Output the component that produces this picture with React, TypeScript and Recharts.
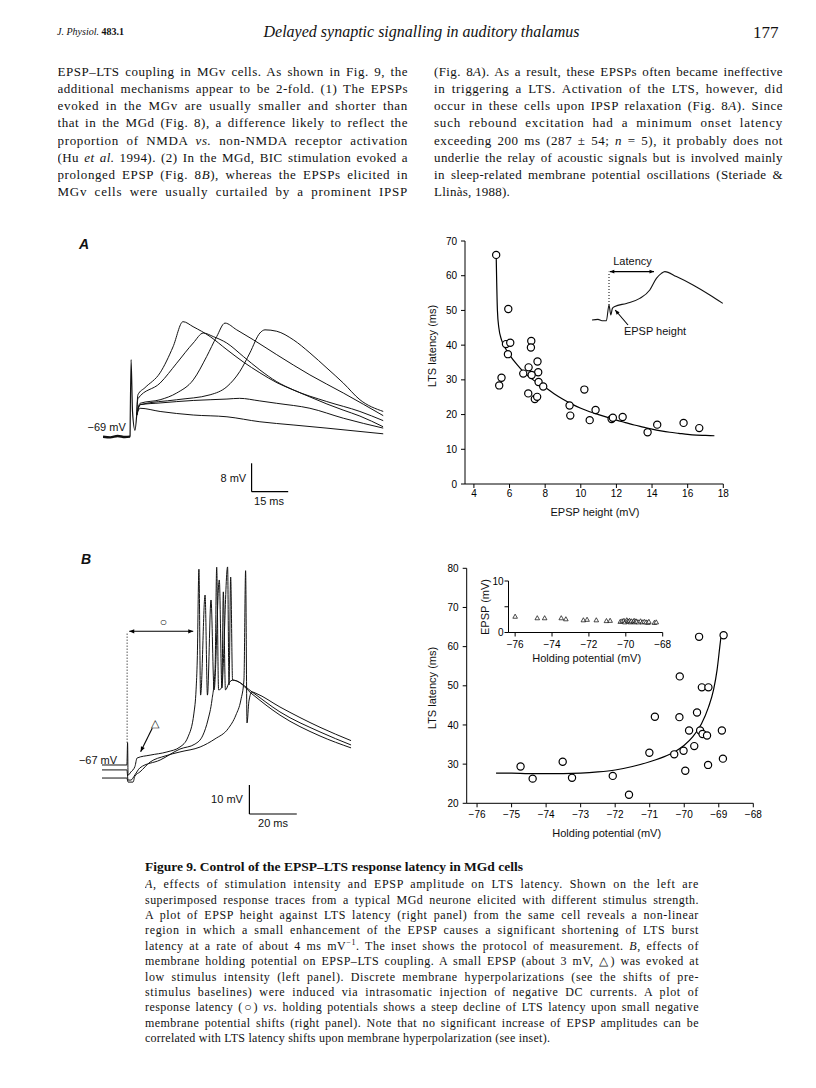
import React, { useLayoutEffect, useRef, useState } from 'react';
import { ComposedChart, LineChart, Line, Scatter, XAxis, YAxis, ReferenceLine } from 'recharts';

const SANS = '"Liberation Sans", Arial, Helvetica, sans-serif';
const SERIF = '"Liberation Serif", "Times New Roman", serif';
const INK = '#111';

// ---------- Panel A (right): EPSP height vs LTS latency ----------
const epspHeightA = [5.25, 5.93, 5.8, 6.04, 5.91, 5.55, 5.42, 7.22, 7.2, 7.57, 7.07, 7.61, 6.77, 7.24, 7.63, 7.89, 7.05, 7.42, 7.55, 9.37, 9.41, 10.2, 10.83, 10.5, 11.73, 11.8, 12.35, 13.75, 14.29, 15.77, 16.65];
const ltsLatencyA = [66, 50.4, 40.3, 40.7, 37.4, 30.6, 28.4, 41.2, 39.3, 35.3, 33.6, 32.2, 31.8, 31.4, 29.4, 28.1, 26.1, 24.5, 25.1, 22.6, 19.7, 27.2, 21.3, 18.4, 18.7, 19.1, 19.3, 14.9, 17.1, 17.6, 16.1];
const fitAx = [5.25, 5.28, 5.32, 5.4, 5.55, 5.8, 6.0, 6.4, 6.8, 7.2, 7.6, 8.0, 8.5, 9.0, 9.5, 10, 10.5, 11, 11.5, 12, 12.5, 13, 13.5, 14, 14.5, 15, 15.5, 16, 16.5, 17, 17.5];
const fitAy = [66, 58, 50, 45, 41.5, 38.8, 37.2, 34.5, 32.2, 30.5, 29, 27.8, 26, 24.4, 23, 21.8, 20.8, 20, 19.2, 18.4, 17.7, 17.0, 16.4, 15.8, 15.3, 14.9, 14.6, 14.3, 14.1, 14.0, 13.9];
const epspTicksA = [4, 6, 8, 10, 12, 14, 16, 18];
const latencyTicksA = [0, 10, 20, 30, 40, 50, 60, 70];

// ---------- Panel B (right): holding potential vs LTS latency ----------
const holdingB = [-74.74, -74.39, -73.52, -73.25, -72.07, -71.6, -71.01, -70.85, -70.29, -70.13, -70.14, -70.02, -69.97, -69.86, -69.71, -69.63, -69.57, -69.54, -69.49, -69.47, -69.34, -69.3, -69.31, -68.91, -68.88, -68.86];
const latencyB = [29.4, 26.3, 30.6, 26.5, 27.0, 22.2, 32.9, 42.1, 32.5, 52.4, 42.0, 33.4, 28.3, 38.6, 34.6, 43.2, 62.5, 38.6, 49.6, 37.7, 37.3, 49.6, 29.8, 38.6, 31.4, 62.9];
const fitBx = [-75.45, -75, -74.5, -74, -73.5, -73, -72.5, -72, -71.5, -71, -70.5, -70.25, -70, -69.75, -69.5, -69.3, -69.15, -69.05, -68.97, -68.93];
const fitBy = [27.7, 27.7, 27.6, 27.6, 27.6, 27.7, 28.0, 28.5, 29.4, 30.6, 32.2, 33.3, 34.8, 37.0, 40.3, 44.5, 49, 54, 60, 63];
const holdingTicksB = [-76, -75, -74, -73, -72, -71, -70, -69, -68];
const latencyTicksB = [20, 30, 40, 50, 60, 70, 80];

// ---------- Panel B inset: EPSP amplitude vs holding potential ----------
const insetHolding = [-76.0, -74.8, -74.4, -73.5, -73.25, -72.3, -72.1, -71.6, -71.05, -70.85, -70.3, -70.2, -70.1, -70.05, -69.95, -69.9, -69.85, -69.8, -69.75, -69.7, -69.6, -69.55, -69.5, -69.45, -69.4, -69.3, -69.2, -69.1, -69.0, -68.9, -68.8, -68.75, -68.45, -68.35];
const insetEpsp = [3.1, 2.8, 2.8, 2.8, 2.6, 2.4, 2.5, 2.4, 2.25, 2.3, 2.1, 2.2, 2.3, 2.0, 2.4, 2.2, 2.1, 2.3, 2.0, 2.2, 2.1, 2.3, 2.0, 2.2, 2.1, 2.0, 2.2, 2.0, 2.1, 2.0, 1.9, 2.1, 1.9, 2.0];
const insetHoldingTicks = [-76, -74, -72, -70, -68];
const insetEpspTicks = [0, 5, 10];

// ---------- Panel A (left): superimposed traces, [ms, mV] ----------
const baselineA = [[0, -69], [3, -69.2], [6, -68.8], [9, -69.1], [11.1, -69]];
const stimA = [[11.1, -69], [11.5, -47.3], [12.1, -62], [13.1, -67.2], [13.8, -63]];
const traceA1 = [[13.8, -63], [14.3, -57.2], [17.2, -55.2], [23.4, -51.0], [28.7, -43.7], [32.8, -36.6], [36.9, -38.0], [43.9, -40.8], [50.8, -44.5], [57.4, -47.9], [64.3, -51.0], [71.3, -53.8], [77.9, -55.8], [84.8, -57.8], [91.8, -59.8], [98.4, -61.5], [105.3, -63.2], [114.8, -66.2]];
const traceA2 = [[13.8, -63], [14.3, -58.3], [23.4, -53.9], [30.2, -48.3], [37, -42.6], [41.1, -39.8], [45.2, -40.8], [50.7, -42.6], [57.5, -46.4], [64.3, -50.2], [71.2, -53.5], [77.9, -55.8], [91.7, -59.1], [105.3, -61.9], [114.9, -64.5]];
const traceA3 = [[13.8, -63], [15.2, -59.6], [23.4, -58.6], [30.2, -56.7], [37, -53], [42.5, -46.4], [46.6, -40.8], [50, -37], [54.8, -38.9], [61.6, -41.7], [71.2, -45.9], [84.8, -51.6], [98.5, -56.7], [114.9, -63.1]];
const traceA4 = [[13.8, -63], [15.2, -60.0], [30.2, -58.6], [43.9, -57.2], [50.8, -54.9], [56.1, -50.6], [60.2, -45.4], [64.3, -39.8], [66.4, -38.9], [71.2, -39.3], [78, -41.7], [84.8, -45.4], [91.8, -49.7], [98.5, -53.9], [105.3, -58.6], [114.9, -61.9]];
const traceA5 = [[13.8, -63], [15.2, -60], [23.4, -59.5], [37, -58.8], [50.8, -58.4], [56, -58.2], [64, -58.9], [71.2, -59.6], [84.8, -61], [98.5, -63.8], [114.9, -66.6]];
const traceA6 = [[13.8, -63], [15.2, -61], [23.4, -61.9], [37, -62.9], [50.8, -63.4], [64.3, -64.8], [77.9, -65.7], [91.8, -66.6], [114.9, -68.2]];

// ---------- Panel B (left): traces at three holding potentials, [ms, mV] ----------
const traceBa = [[0, -67], [10.5, -67], [10.8, -59.3], [11.0, -70.5], [12.2, -69.4], [13.9, -67.5], [14.8, -64.6], [20.3, -63.6], [27.4, -62.5], [32.9, -60.8], [36.3, -57.3], [38.8, -49.1], [39.7, -41.1], [40.2, -30.8], [40.9, 0.5], [41.6, -42.9], [43.5, -8.4], [44.5, -42.9], [46.0, -10.1], [47.3, -41.1], [49.5, -3.2], [50.6, -40.4], [51.2, -7.3], [52.1, -41.1], [53.6, -38.7], [55.3, -37.7], [56.8, -38.0], [63.3, -41.8], [75.1, -48.7], [92.0, -55.6], [105.1, -60.1]];
const traceBb = [[0, -68.7], [10.5, -68.7], [11.0, -72.2], [12.2, -72.2], [13.9, -70.4], [16.0, -68.0], [24.5, -65.3], [32.9, -61.5], [39.2, -59.8], [42.6, -56.7], [44.7, -51.5], [46.4, -44.6], [47.7, -34.2], [48.4, 1.2], [49.2, -41.1], [50.5, -40.4], [53.0, 1.3], [53.6, -39.4], [54.3, -2.2], [55.1, -37.7], [56.8, -38.0], [63.3, -42.5], [75.1, -49.8], [92.0, -57.0], [105.1, -61.1]];
const traceBc = [[0, -71.5], [10.5, -71.5], [11.0, -72.9], [13.1, -72.9], [13.9, -70.8], [16.0, -69.4], [20.3, -66.0], [26.6, -63.9], [32.9, -62.5], [41.4, -60.8], [47.7, -58.0], [53.2, -54.5], [56.5, -49.8], [58.6, -44.6], [59.9, -37.7], [60.6, 0.0], [61.2, -52.5], [62.0, -45], [63.3, -41.8], [65.0, -42.3], [75.1, -47.0], [92.0, -54.0], [105.1, -58.6]];

// ---------- Panel A inset: measurement protocol trace ----------
const insetTrace = [[0, 0], [3, 0.3], [5, -0.4], [7.2, -0.3], [8.5, 7.5], [9.4, 2.5], [10.2, 5.8], [11.4, 6.7], [17.2, 8.3], [23.9, 10.8], [28.9, 15], [32.2, 20.8], [34.7, 23.3], [36.4, 24.2], [42.2, 21.7], [50.5, 17.5], [58.9, 12.5], [65.4, 8.3]];

const toTV = (arr: number[][]) => arr.map(([t, v]) => ({ t, v }));
const toXY = (xs: number[], ys: number[]) => xs.map((x, i) => ({ x, y: ys[i] }));
const minus = (v: number) => String(v).replace('-', '\u2212');

const MINUS = '\u2212';
const EN = '\u2013';
const CIRCLE = '\u25cb';
const TRI = '\u25b3';

function arrow(heads: 'start' | 'end' | 'both', size = 5) {
  return (p: any) => {
    const { x1, y1, x2, y2 } = p || {};
    if ([x1, y1, x2, y2].some((v) => typeof v !== 'number' || isNaN(v))) return <g />;
    const a = Math.atan2(y2 - y1, x2 - x1);
    const head = (x: number, y: number, ang: number) => {
      const w = size * 0.42;
      const bx = x - size * Math.cos(ang);
      const by = y - size * Math.sin(ang);
      const px = -Math.sin(ang) * w;
      const py = Math.cos(ang) * w;
      return <polygon points={`${x},${y} ${bx + px},${by + py} ${bx - px},${by - py}`} fill="#000" />;
    };
    return (
      <g>
        <line x1={x1} y1={y1} x2={x2} y2={y2} stroke="#000" strokeWidth={1.1} />
        {heads !== 'start' && head(x2, y2, a)}
        {heads !== 'end' && head(x1, y1, a + Math.PI)}
      </g>
    );
  };
}

const circleShape = (p: any) => <circle cx={p.cx} cy={p.cy} r={3.6} fill="#fff" stroke="#000" strokeWidth={1.2} />;
const triShape = (p: any) => (
  <polygon points={`${p.cx},${p.cy - 2.4} ${p.cx - 2.3},${p.cy + 1.7} ${p.cx + 2.3},${p.cy + 1.7}`} fill="#fff" stroke="#000" strokeWidth={0.7} />
);

const tickStyle = { fontFamily: SANS, fontSize: 10, fill: '#000' };

function Txt({ x, y, children, size = 11, rotate = 0, weight = 'normal', italic = false, family = SANS }: any) {
  return (
    <div
      style={{
        position: 'absolute',
        left: x,
        top: y,
        transform: `translate(-50%, -50%) rotate(${rotate}deg)`,
        fontFamily: family,
        fontSize: size,
        fontWeight: weight,
        fontStyle: italic ? 'italic' : 'normal',
        whiteSpace: 'nowrap',
        color: INK,
        lineHeight: 1,
      }}
    >
      {children}
    </div>
  );
}

// One typeset line: measured once, then given a little letter spacing (to imitate the wider
// original typeface) and justified to the column width.
function TypeLine({ children, width, lineHeight, justify }: any) {
  const ref = useRef<HTMLSpanElement>(null);
  const [state, setState] = useState({ ls: 0, ready: false });
  useLayoutEffect(() => {
    const el = ref.current;
    if (!el || state.ready) return;
    const natural = el.getBoundingClientRect().width;
    const n = Math.max(1, (el.textContent || '').length);
    const ls = justify ? Math.max(0, Math.min(0.8, ((width - natural) * 0.6) / n)) : 0.25;
    setState({ ls, ready: true });
  }, []);
  return (
    <div
      style={{
        height: lineHeight,
        lineHeight: `${lineHeight}px`,
        overflow: 'hidden',
        whiteSpace: 'nowrap',
        textAlign: state.ready && justify ? 'justify' : 'left',
        textAlignLast: state.ready && justify ? 'justify' : 'left',
      }}
    >
      <span ref={ref} style={{ letterSpacing: state.ls }}>{children}</span>
    </div>
  );
}

function TextBlock({ lines, left, top, width, lineHeight, fontSize, justifyLast = false }: any) {
  return (
    <div style={{ position: 'absolute', left, top, width, fontFamily: SERIF, fontSize, color: INK }}>
      {lines.map((l: any, i: number) => (
        <TypeLine key={i} width={width} lineHeight={lineHeight} justify={!(i === lines.length - 1 && !justifyLast)}>
          {l}
        </TypeLine>
      ))}
    </div>
  );
}

const leftColumn = [
  `EPSP${EN}LTS coupling in MGv cells. As shown in Fig. 9, the`,
  'additional mechanisms appear to be 2-fold. (1) The EPSPs',
  'evoked in the MGv are usually smaller and shorter than',
  'that in the MGd (Fig. 8), a difference likely to reflect the',
  <>proportion of NMDA <i>vs.</i> non-NMDA receptor activation</>,
  <>(Hu <i>et al.</i> 1994). (2) In the MGd, BIC stimulation evoked a</>,
  <>prolonged EPSP (Fig. 8<i>B</i>), whereas the EPSPs elicited in</>,
  'MGv cells were usually curtailed by a prominent IPSP',
];
const rightColumn = [
  <>(Fig. 8<i>A</i>). As a result, these EPSPs often became ineffective</>,
  'in triggering a LTS. Activation of the LTS, however, did',
  <>occur in these cells upon IPSP relaxation (Fig. 8<i>A</i>). Since</>,
  'such rebound excitation had a minimum onset latency',
  <>exceeding 200 ms (287 {'\u00b1'} 54; <i>n</i> = 5), it probably does not</>,
  'underlie the relay of acoustic signals but is involved mainly',
  'in sleep-related membrane potential oscillations (Steriade &',
  'Llinàs, 1988).',
];
const captionLines = [
  <><i>A</i>, effects of stimulation intensity and EPSP amplitude on LTS latency. Shown on the left are</>,
  'superimposed response traces from a typical MGd neurone elicited with different stimulus strength.',
  'A plot of EPSP height against LTS latency (right panel) from the same cell reveals a non-linear',
  'region in which a small enhancement of the EPSP causes a significant shortening of LTS burst',
  <>latency at a rate of about 4 ms mV<sup style={{ fontSize: 8, lineHeight: 0 }}>{MINUS + '1'}</sup>. The inset shows the protocol of measurement. <i>B</i>, effects of</>,
  `membrane holding potential on EPSP${EN}LTS coupling. A small EPSP (about 3 mV, ${TRI}) was evoked at`,
  'low stimulus intensity (left panel). Discrete membrane hyperpolarizations (see the shifts of pre-',
  'stimulus baselines) were induced via intrasomatic injection of negative DC currents. A plot of',
  <>response latency ({CIRCLE}) <i>vs.</i> holding potentials shows a steep decline of LTS latency upon small negative</>,
  'membrane potential shifts (right panel). Note that no significant increase of EPSP amplitudes can be',
  'correlated with LTS latency shifts upon membrane hyperpolarization (see inset).',
];

const traceLine = (data: number[][], key: string, w = 1) => (
  <Line key={key} data={toTV(data)} dataKey="v" type="monotone" dot={false} stroke={INK} strokeWidth={w} isAnimationActive={false} />
);

export default function App() {
  const pointsA = toXY(epspHeightA, ltsLatencyA);
  const fitA = toXY(fitAx, fitAy);
  const pointsB = toXY(holdingB, latencyB);
  const fitB = toXY(fitBx, fitBy);
  const insetPts = toXY(insetHolding, insetEpsp);

  return (
    <div style={{ position: 'absolute', left: 0, top: 0, width: 816, height: 1088, background: '#fff', overflow: 'hidden' }}>
      {/* Running header */}
      <div style={{ position: 'absolute', left: 57, top: 26, fontFamily: SERIF, fontSize: 10, color: INK }}>
        <i>J. Physiol.</i> <b>483.1</b>
      </div>
      <Txt x={421.5} y={31.7} size={16} italic family={SERIF}>Delayed synaptic signalling in auditory thalamus</Txt>
      <div style={{ position: 'absolute', left: 753, top: 23, fontFamily: SERIF, fontSize: 17, color: INK }}>177</div>

      <TextBlock lines={leftColumn} left={57.5} top={63.2} width={350.5} lineHeight={17.1} fontSize={13} justifyLast />
      <TextBlock lines={rightColumn} left={434} top={63.2} width={349} lineHeight={17.1} fontSize={13} />

      {/* Panel labels */}
      <Txt x={84} y={244} size={14} italic weight="bold">A</Txt>
      <Txt x={86} y={559} size={14} italic weight="bold">B</Txt>

      {/* Panel A traces */}
      <div style={{ position: 'absolute', left: 103, top: 316 }}>
        <LineChart width={280.6} height={181} margin={{ top: 0, right: 0, bottom: 0, left: 0 }}>
          <XAxis type="number" dataKey="t" domain={[0, 115]} allowDataOverflow hide />
          <YAxis type="number" domain={[-86, -35]} allowDataOverflow hide />
          {traceLine(baselineA, 'base', 2.4)}
          {traceLine(stimA, 'stim', 1.2)}
          {traceLine(traceA1, 'a1')}
          {traceLine(traceA2, 'a2')}
          {traceLine(traceA3, 'a3')}
          {traceLine(traceA4, 'a4')}
          {traceLine(traceA5, 'a5')}
          {traceLine(traceA6, 'a6')}
          <ReferenceLine segment={[{ x: 60.9, y: -76.5 }, { x: 60.9, y: -84.5 }]} stroke="#000" strokeWidth={1.2} />
          <ReferenceLine segment={[{ x: 60.9, y: -84.5 }, { x: 75.9, y: -84.5 }]} stroke="#000" strokeWidth={1.2} />
        </LineChart>
      </div>
      <Txt x={106.7} y={426.7}>{MINUS + '69 mV'}</Txt>
      <Txt x={233.3} y={478}>8 mV</Txt>
      <Txt x={269} y={501}>15 ms</Txt>

      {/* Panel B traces */}
      <div style={{ position: 'absolute', left: 102, top: 562 }}>
        <LineChart width={251.2} height={255.2} margin={{ top: 0, right: 0, bottom: 0, left: 0 }}>
          <XAxis type="number" dataKey="t" domain={[0, 106]} allowDataOverflow hide />
          <YAxis type="number" domain={[-85, 3]} allowDataOverflow hide />
          {traceLine(traceBa, 'ba')}
          {traceLine(traceBb, 'bb')}
          {traceLine(traceBc, 'bc')}
          <ReferenceLine segment={[{ x: 10.6, y: -59.3 }, { x: 10.6, y: -21.0 }]} stroke="#000" strokeWidth={1} strokeDasharray="1 2" />
          <ReferenceLine segment={[{ x: 11.5, y: -20.9 }, { x: 38.5, y: -20.9 }]} shape={arrow('both')} />
          <ReferenceLine segment={[{ x: 21.2, y: -54.3 }, { x: 16.3, y: -62.4 }]} shape={arrow('end')} />
          <ReferenceLine segment={[{ x: 62.2, y: -73.9 }, { x: 62.2, y: -83.9 }]} stroke="#000" strokeWidth={1.2} />
          <ReferenceLine segment={[{ x: 62.2, y: -83.9 }, { x: 82.2, y: -83.9 }]} stroke="#000" strokeWidth={1.2} />
        </LineChart>
      </div>
      <Txt x={163.3} y={621.7} size={12}>{CIRCLE}</Txt>
      <Txt x={155} y={723.3} size={11}>{TRI}</Txt>
      <Txt x={98} y={760}>{MINUS + '67 mV'}</Txt>
      <Txt x={227} y={799}>10 mV</Txt>
      <Txt x={273} y={823}>20 ms</Txt>

      {/* Panel A right: scatter */}
      <div style={{ position: 'absolute', left: 400, top: 230 }}>
        <ComposedChart width={340} height={290} margin={{ top: 11, right: 16.7, bottom: 6, left: 0 }}>
          <XAxis type="number" dataKey="x" domain={[3.5, 18]} ticks={epspTicksA} allowDataOverflow interval={0}
            axisLine={{ stroke: '#000' }} tickLine={{ stroke: '#000' }} tickSize={4} tickMargin={2} height={30} tick={tickStyle} />
          <YAxis type="number" dataKey="y" domain={[0, 70]} ticks={latencyTicksA} allowDataOverflow interval={0}
            axisLine={{ stroke: '#000' }} tickLine={{ stroke: '#000' }} tickSize={4} tickMargin={4} width={65} tick={tickStyle} />
          <Line data={fitA} dataKey="y" type="monotone" dot={false} stroke="#000" strokeWidth={1.2} isAnimationActive={false} />
          <Scatter data={pointsA} shape={circleShape} isAnimationActive={false} />
        </ComposedChart>
      </div>
      <Txt x={432} y={346} rotate={-90}>LTS latency (ms)</Txt>
      <Txt x={595} y={511.7}>EPSP height (mV)</Txt>

      {/* Panel A inset trace */}
      <div style={{ position: 'absolute', left: 592.3, top: 260 }}>
        <LineChart width={132} height={68} margin={{ top: 0, right: 0, bottom: 0, left: 0 }}>
          <XAxis type="number" dataKey="t" domain={[0, 66]} allowDataOverflow hide />
          <YAxis type="number" domain={[-4, 30]} allowDataOverflow hide />
          {traceLine(insetTrace, 'inset', 1.1)}
          <ReferenceLine segment={[{ x: 8.5, y: 7.5 }, { x: 8.5, y: 24.2 }]} stroke="#000" strokeWidth={1} strokeDasharray="1 2" />
          <ReferenceLine segment={[{ x: 8.9, y: 24.2 }, { x: 31, y: 24.2 }]} shape={arrow('both', 4.5)} />
          <ReferenceLine segment={[{ x: 18, y: -2.5 }, { x: 11.6, y: 5 }]} shape={arrow('end', 4.5)} />
        </LineChart>
      </div>
      <Txt x={632.5} y={260.7}>Latency</Txt>
      <Txt x={655} y={331}>EPSP height</Txt>

      {/* Panel B right: scatter */}
      <div style={{ position: 'absolute', left: 400, top: 555 }}>
        <ComposedChart width={370} height={290} margin={{ top: 13.3, right: 16.7, bottom: 11.7, left: 0 }}>
          <XAxis type="number" dataKey="x" domain={[-76.3, -68]} ticks={holdingTicksB} allowDataOverflow interval={0}
            axisLine={{ stroke: '#000' }} tickLine={{ stroke: '#000' }} tickSize={4} tickMargin={4} height={30} tick={tickStyle} tickFormatter={minus} />
          <YAxis type="number" dataKey="y" domain={[20, 80]} ticks={latencyTicksB} allowDataOverflow interval={0}
            axisLine={{ stroke: '#000' }} tickLine={{ stroke: '#000' }} tickSize={4} tickMargin={4} width={66.7} tick={tickStyle} />
          <Line data={fitB} dataKey="y" type="monotone" dot={false} stroke="#000" strokeWidth={1.2} isAnimationActive={false} />
          <Scatter data={pointsB} shape={circleShape} isAnimationActive={false} />
        </ComposedChart>
      </div>
      <Txt x={431.7} y={688} rotate={-90}>LTS latency (ms)</Txt>
      <Txt x={606.7} y={833.3}>Holding potential (mV)</Txt>

      {/* Panel B inset */}
      <div style={{ position: 'absolute', left: 470, top: 570 }}>
        <ComposedChart width={210} height={90} margin={{ top: 11, right: 17.3, bottom: 2.5, left: 0 }}>
          <XAxis type="number" dataKey="x" domain={[-76.36, -68]} ticks={insetHoldingTicks} allowDataOverflow interval={0}
            axisLine={{ stroke: '#000' }} tickLine={{ stroke: '#000' }} tickSize={4} tickMargin={4} height={25} tick={tickStyle} tickFormatter={minus} />
          <YAxis type="number" dataKey="y" domain={[0, 10]} ticks={insetEpspTicks} allowDataOverflow interval={0}
            axisLine={{ stroke: '#000' }} tickLine={{ stroke: '#000' }} tickSize={4} tickMargin={1} width={38.5} tick={tickStyle}
            tickFormatter={(v: number) => (v === 5 ? '' : String(v))} />
          <Scatter data={insetPts} shape={triShape} isAnimationActive={false} />
        </ComposedChart>
      </div>
      <Txt x={485} y={607} rotate={-90}>EPSP (mV)</Txt>
      <Txt x={586.7} y={658.3}>Holding potential (mV)</Txt>

      {/* Caption */}
      <div style={{ position: 'absolute', left: 145, top: 858.5, fontFamily: SERIF, fontSize: 13.5, fontWeight: 'bold', color: INK, whiteSpace: 'nowrap' }}>
        Figure 9. Control of the EPSP{EN}LTS response latency in MGd cells
      </div>
      <TextBlock lines={captionLines} left={145} top={877.3} width={554} lineHeight={15.4} fontSize={12} />
    </div>
  );
}
